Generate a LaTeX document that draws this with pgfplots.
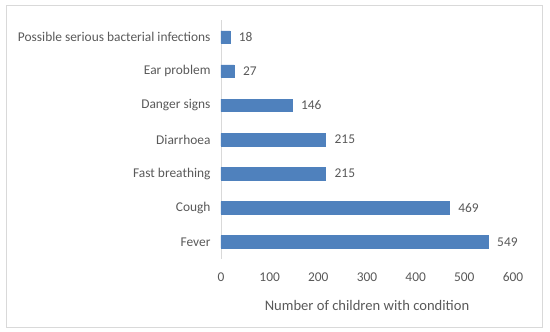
\documentclass[border=0pt]{standalone}
\usepackage{pgfplots}
\pgfplotsset{compat=1.18}
\usepackage{fontspec}
\setmainfont{Carlito}
\definecolor{barblue}{HTML}{4F81BD}
\definecolor{txtgray}{HTML}{595959}
\definecolor{axgray}{HTML}{D9D9D9}
\begin{document}
\begin{tikzpicture}[x=1pt,y=1pt]
\path (0,0) rectangle (550,332);
\draw[draw=axgray, line width=0.8pt] (6,5) rectangle (542,327);
\begin{axis}[
  at={(221pt,73pt)}, anchor=south west,
  scale only axis, width=292pt, height=239pt,
  xbar, bar width=12.5pt,
  xmin=0, xmax=600, ymin=-0.5, ymax=6.5,
  xtick={0,100,...,600},
  ytick={0,...,6},
  yticklabels={Fever,Cough,Fast breathing,Diarrhoea,Danger signs,Ear problem,Possible serious bacterial infections},
  axis x line=bottom, axis y line=left,
  x axis line style={draw=none},
  y axis line style={draw=axgray, line width=0.8pt, -},
  major tick length=0pt,
  tick label style={font=\fontsize{13.4}{15}\selectfont, text=txtgray},
  xticklabel style={yshift=-10pt},
  yticklabel style={xshift=-7pt},
  /pgf/number format/assume math mode=true,
  xlabel={Number of children with condition},
  xlabel style={font=\fontsize{14.6}{17}\selectfont, text=txtgray, yshift=-12pt},
  nodes near coords,
  nodes near coords style={font=\fontsize{13.4}{15}\selectfont, text=txtgray, anchor=west, xshift=5.5pt},
  clip=false,
]
\addplot[fill=barblue, draw=barblue] coordinates {
(549,0) (469,1) (215,2) (215,3) (146,4) (27,5) (18,6)
};
\end{axis}
\end{tikzpicture}
\end{document}
